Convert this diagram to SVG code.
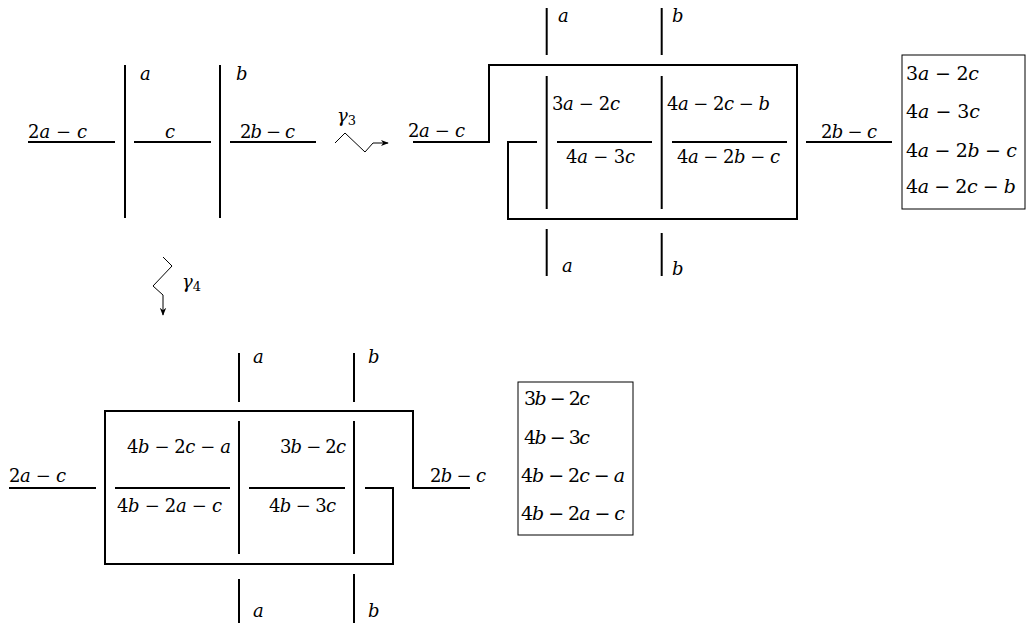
<svg xmlns="http://www.w3.org/2000/svg" width="1027" height="626" viewBox="0 0 1027 626">
<defs>
<style>
.t{font-family:"DejaVu Serif","Liberation Serif",serif;font-size:18px;fill:#000}
.b{font-size:19px}
.i{font-style:italic}
.s{font-size:13px}
.th{stroke:#000;stroke-width:2;fill:none}
.tn{stroke:#000;stroke-width:1;fill:none}
</style>
<marker id="arr" viewBox="0 0 10 10" refX="9" refY="5" markerWidth="8" markerHeight="8" markerUnits="userSpaceOnUse" orient="auto">
<path d="M0,1 L10,5 L0,9 L3,5 Z" fill="#000"/>
</marker>
</defs>
<rect width="1027" height="626" fill="#fff"/>

<g id="diagram-start">
<line class="th" x1="28" y1="142" x2="115" y2="142"/>
<text class="t" x="28" y="138" textLength="59" lengthAdjust="spacing">2<tspan class="i">a</tspan> − <tspan class="i">c</tspan></text>
<line class="th" x1="125" y1="65" x2="125" y2="218"/>
<text class="t i" x="140" y="80">a</text>
<line class="th" x1="134" y1="142" x2="211" y2="142"/>
<text class="t i" x="165" y="138">c</text>
<line class="th" x1="220" y1="65" x2="220" y2="218"/>
<text class="t i" x="236" y="80">b</text>
<line class="th" x1="230" y1="142" x2="316" y2="142"/>
<text class="t" x="240" y="138" textLength="55" lengthAdjust="spacing">2<tspan class="i">b</tspan> − <tspan class="i">c</tspan></text>
</g>

<g id="diagram-gamma3">
<text class="t" x="408" y="137" textLength="57" lengthAdjust="spacing">2<tspan class="i">a</tspan> − <tspan class="i">c</tspan></text>
<path class="th" d="M413,142 H489 V65 H797 V219 H508 V142 H537"/>
<line class="th" x1="546.7" y1="8" x2="546.7" y2="55"/>
<line class="th" x1="661.7" y1="8" x2="661.7" y2="55"/>
<text class="t i" x="558" y="22">a</text>
<text class="t i" x="672" y="22">b</text>
<line class="th" x1="546.7" y1="76" x2="546.7" y2="209"/>
<line class="th" x1="661.7" y1="76" x2="661.7" y2="209"/>
<text class="t" x="552" y="110" textLength="68" lengthAdjust="spacing">3<tspan class="i">a</tspan> − 2<tspan class="i">c</tspan></text>
<text class="t" x="667" y="110" textLength="103" lengthAdjust="spacing">4<tspan class="i">a</tspan> − 2<tspan class="i">c</tspan> − <tspan class="i">b</tspan></text>
<line class="th" x1="557" y1="142" x2="652" y2="142"/>
<line class="th" x1="672" y1="142" x2="787" y2="142"/>
<text class="t" x="566" y="163" textLength="69" lengthAdjust="spacing">4<tspan class="i">a</tspan> − 3<tspan class="i">c</tspan></text>
<text class="t" x="677" y="163" textLength="103" lengthAdjust="spacing">4<tspan class="i">a</tspan> − 2<tspan class="i">b</tspan> − <tspan class="i">c</tspan></text>
<line class="th" x1="806" y1="142" x2="892" y2="142"/>
<text class="t" x="821" y="138" textLength="56" lengthAdjust="spacing">2<tspan class="i">b</tspan> − <tspan class="i">c</tspan></text>
<line class="th" x1="546.7" y1="229" x2="546.7" y2="276"/>
<line class="th" x1="661.7" y1="233" x2="661.7" y2="276"/>
<text class="t i" x="562" y="272">a</text>
<text class="t i" x="672" y="275">b</text>
</g>

<g id="list-gamma3">
<rect class="tn" x="902" y="55" width="123" height="154"/>
<text class="t b" x="906" y="80" textLength="73" lengthAdjust="spacing">3<tspan class="i">a</tspan> − 2<tspan class="i">c</tspan></text>
<text class="t b" x="906" y="118" textLength="74" lengthAdjust="spacing">4<tspan class="i">a</tspan> − 3<tspan class="i">c</tspan></text>
<text class="t b" x="906" y="157" textLength="111" lengthAdjust="spacing">4<tspan class="i">a</tspan> − 2<tspan class="i">b</tspan> − <tspan class="i">c</tspan></text>
<text class="t b" x="906" y="193" textLength="110" lengthAdjust="spacing">4<tspan class="i">a</tspan> − 2<tspan class="i">c</tspan> − <tspan class="i">b</tspan></text>
</g>

<g id="diagram-gamma4">
<line class="th" x1="9" y1="488" x2="96" y2="488"/>
<text class="t" x="9" y="482" textLength="57" lengthAdjust="spacing">2<tspan class="i">a</tspan> − <tspan class="i">c</tspan></text>
<path class="th" d="M470,488 H413 V411 H105 V564 H393 V488 H365"/>
<line class="th" x1="239" y1="353" x2="239" y2="402"/>
<line class="th" x1="354" y1="353" x2="354" y2="402"/>
<text class="t i" x="253" y="363">a</text>
<text class="t i" x="368" y="363">b</text>
<line class="th" x1="239" y1="421" x2="239" y2="554"/>
<line class="th" x1="354" y1="421" x2="354" y2="554"/>
<line class="th" x1="115" y1="488" x2="230" y2="488"/>
<line class="th" x1="249" y1="488" x2="345" y2="488"/>
<text class="t" x="127" y="453" textLength="104" lengthAdjust="spacing">4<tspan class="i">b</tspan> − 2<tspan class="i">c</tspan> − <tspan class="i">a</tspan></text>
<text class="t" x="280" y="453" textLength="66" lengthAdjust="spacing">3<tspan class="i">b</tspan> − 2<tspan class="i">c</tspan></text>
<text class="t" x="117" y="512" textLength="105" lengthAdjust="spacing">4<tspan class="i">b</tspan> − 2<tspan class="i">a</tspan> − <tspan class="i">c</tspan></text>
<text class="t" x="269" y="512" textLength="67" lengthAdjust="spacing">4<tspan class="i">b</tspan> − 3<tspan class="i">c</tspan></text>
<text class="t" x="430" y="482" textLength="56" lengthAdjust="spacing">2<tspan class="i">b</tspan> − <tspan class="i">c</tspan></text>
<line class="th" x1="239" y1="579" x2="239" y2="623"/>
<line class="th" x1="354" y1="574" x2="354" y2="623"/>
<text class="t i" x="253" y="617">a</text>
<text class="t i" x="368" y="617">b</text>
</g>

<g id="list-gamma4">
<rect class="tn" x="518" y="382" width="115" height="153"/>
<text class="t b" x="524" y="405" textLength="66" lengthAdjust="spacing">3<tspan class="i">b</tspan> − 2<tspan class="i">c</tspan></text>
<text class="t b" x="524" y="444" textLength="66" lengthAdjust="spacing">4<tspan class="i">b</tspan> − 3<tspan class="i">c</tspan></text>
<text class="t b" x="521" y="482" textLength="104" lengthAdjust="spacing">4<tspan class="i">b</tspan> − 2<tspan class="i">c</tspan> − <tspan class="i">a</tspan></text>
<text class="t b" x="521" y="520" textLength="104" lengthAdjust="spacing">4<tspan class="i">b</tspan> − 2<tspan class="i">a</tspan> − <tspan class="i">c</tspan></text>
</g>

<g id="connectors">
<path class="tn" d="M335,143 L345,133 L365,152 L373,143 L388,143" marker-end="url(#arr)"/>
<text class="t" x="337" y="122"><tspan class="i">γ</tspan><tspan class="s" dy="3">3</tspan></text>
<path class="tn" d="M163,257 L172,266 L153,286 L163,295 L163,315" marker-end="url(#arr)"/>
<text class="t" x="182" y="288"><tspan class="i">γ</tspan><tspan class="s" dy="3">4</tspan></text>
</g>
</svg>
